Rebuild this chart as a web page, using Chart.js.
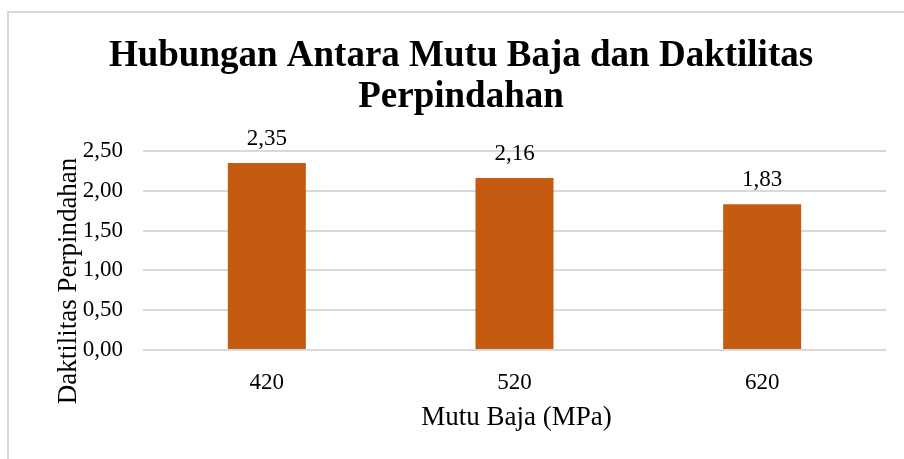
<!DOCTYPE html>
<html>
<head>
<meta charset="utf-8">
<script src="https://cdn.jsdelivr.net/npm/chart.js@4"></script>
<style>
  body { margin: 0; background: #fff; }
  #wrap { position: relative; width: 904px; height: 459px; overflow: hidden; }
  #frame { position: absolute; left: 7px; top: 11px; width: 1000px; height: 1000px; border: 2px solid #d9d9d9; }
  #graphCanvas { position: absolute; left: 0; top: 0; }
</style>
</head>
<body>
<div id="wrap">
  <div id="frame"></div>
  <canvas id="graphCanvas" width="904" height="459"></canvas>
</div>
<script>
const categories = ['420', '520', '620'];
const ductility = [2.35, 2.16, 1.83];
const yTicks = [0, 0.5, 1, 1.5, 2, 2.5];

const titleLines = ['Hubungan Antara Mutu Baja dan Daktilitas', 'Perpindahan'];
const xTitle = 'Mutu Baja (MPa)';
const yTitle = 'Daktilitas Perpindahan';

const serif = "'Liberation Serif', 'Times New Roman', serif";
const fmt = v => v.toFixed(2).replace('.', ',');

// chart title, value labels above bars, axis titles
const labelsPlugin = {
    id: 'labels',
    afterDatasetsDraw(chart) {
        const ctx = chart.ctx;
        ctx.save();
        ctx.fillStyle = '#000';
        ctx.textAlign = 'center';
        ctx.textBaseline = 'alphabetic';

        ctx.font = 'bold 37px ' + serif;
        ctx.fillText(titleLines[0], 461, 66);
        ctx.fillText(titleLines[1], 461, 107);

        ctx.font = '23px ' + serif;
        chart.getDatasetMeta(0).data.forEach((bar, i) => {
            ctx.fillText(fmt(ductility[i]), bar.x, bar.y - 18);
        });

        const area = chart.chartArea;
        ctx.font = '27px ' + serif;
        ctx.fillText(xTitle, (area.left + area.right) / 2 + 2, 425);

        ctx.translate(76, 281);
        ctx.rotate(-Math.PI / 2);
        ctx.fillText(yTitle, 0, 0);
        ctx.restore();
    }
};

const context = document.getElementById('graphCanvas').getContext('2d');
const chart = new Chart(context, {
    type: 'bar',
    data: {
        labels: categories,
        datasets: [
            {
                label: 'Daktilitas Perpindahan',
                data: ductility,
                backgroundColor: '#C55A11',
                categoryPercentage: 1,
                barPercentage: 0.315,
            }
        ]
    },
    options: {
        responsive: false,
        animation: false,
        layout: {
            padding: { left: 8, right: 18, top: 151, bottom: 0 }
        },
        plugins: {
            legend: { display: false },
            tooltip: { enabled: false },
            title: { display: false }
        },
        scales: {
            x: {
                grid: { display: false },
                border: { display: false },
                ticks: { color: '#000', font: { family: serif, size: 23 }, padding: 11 },
                afterFit(scale) { scale.height = 109; }
            },
            y: {
                min: 0,
                max: 2.5,
                afterBuildTicks(scale) { scale.ticks = yTicks.map(v => ({ value: v })); },
                grid: { color: '#d9d9d9', lineWidth: 2, drawTicks: false },
                border: { display: false },
                ticks: {
                    color: '#000',
                    font: { family: serif, size: 23 },
                    padding: 20,
                    callback: v => fmt(v)
                },
                afterFit(scale) { scale.width = 135; }
            }
        }
    },
    plugins: [labelsPlugin]
});
</script>
</body>
</html>
